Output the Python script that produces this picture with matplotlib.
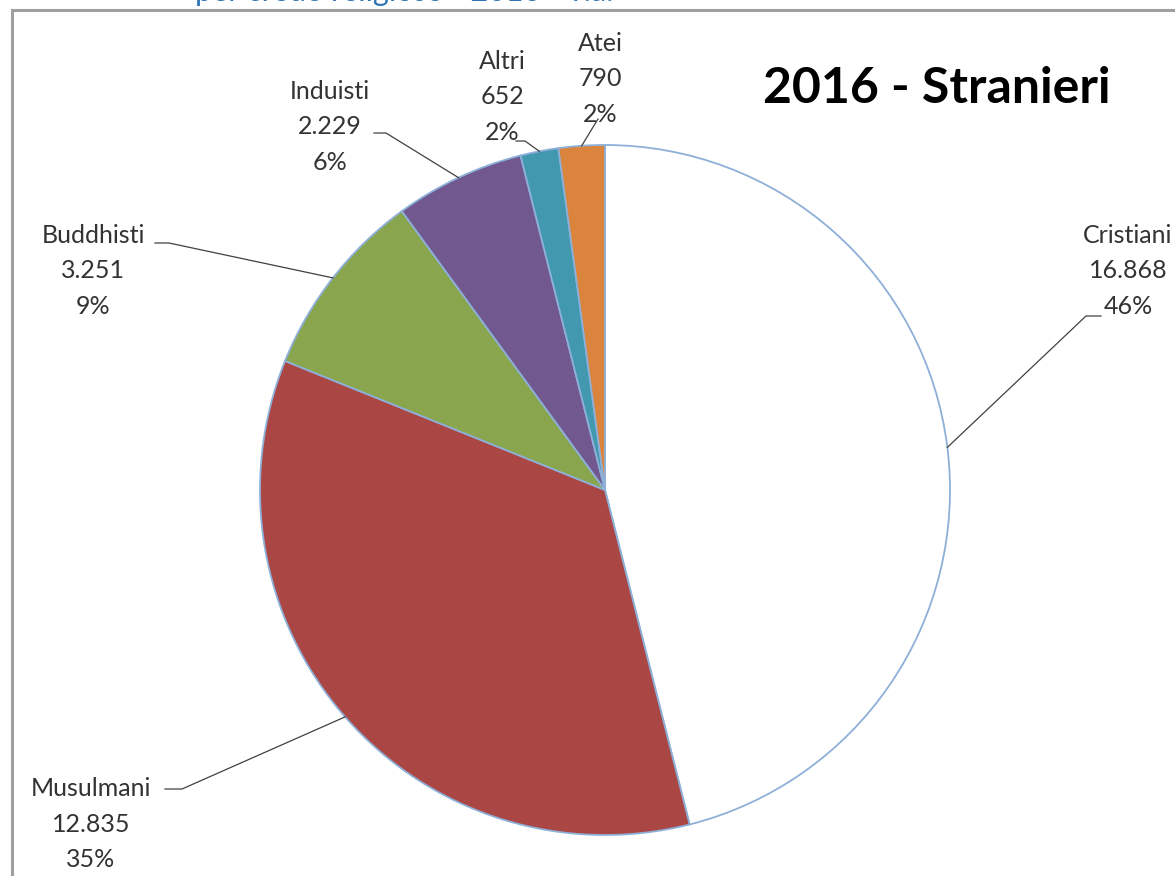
import numpy as np
import matplotlib
matplotlib.use("Agg")
import matplotlib.pyplot as plt
from matplotlib.lines import Line2D

# data
categories = ["Cristiani", "Musulmani", "Buddhisti", "Induisti", "Altri", "Atei"]
counts = [16868, 12835, 3251, 2229, 652, 790]
count_labels = ["16.868", "12.835", "3.251", "2.229", "652", "790"]
colors = ["#ffffff", "#aa4643", "#89a54e", "#71588f", "#4198af", "#db843d"]

W, H = 1175, 876
CX, CY, R = 605, 490, 345   # pie centre / radius in pixels

# label block centres and leader start/elbow points, in pixels (layout only)
label_pos = [(1128, 271), (91, 824), (93, 271), (330, 127), (502, 97), (600, 79)]
leader_start = [(1101, 316), (165, 789), (155, 243), (374, 133), (516, 141), (598, 119)]
leader_elbow = [(1086, 316), (182, 789), (169, 243), (386, 133), (525, 141), (598, 119)]


def to_data(p):
    return ((p[0] - CX) / R, (CY - p[1]) / R)


fig = plt.figure(figsize=(W / 100, H / 100), dpi=100)
fig.patch.set_facecolor("white")

ax = fig.add_axes([(CX - R) / W, (H - CY - R) / H, 2 * R / W, 2 * R / H])
wedges, _ = ax.pie(counts, colors=colors, startangle=90, counterclock=False,
                   radius=1, wedgeprops=dict(edgecolor="#8eb0d8", linewidth=1.3))
ax.set_xlim(-1, 1)
ax.set_ylim(-1, 1)

total = sum(counts)
for i, w in enumerate(wedges):
    ang = np.deg2rad((w.theta1 + w.theta2) / 2)
    end = (np.cos(ang), np.sin(ang))
    s = to_data(leader_start[i])
    e = to_data(leader_elbow[i])
    ax.plot([s[0], e[0], end[0]], [s[1], e[1], end[1]], color="#404040",
            lw=0.9, clip_on=False)
    pct = round(counts[i] / total * 100)
    tx, ty = to_data(label_pos[i])
    ax.text(tx, ty, f"{categories[i]}\n{count_labels[i]}\n{pct}%", ha="center",
            va="center", fontsize=18, family="Lato", color="#333333",
            linespacing=1.68, clip_on=False)

# chart title
fig.text(937 / W, 1 - 103 / H, "2016 - Stranieri", ha="center", va="baseline",
         fontsize=36, fontweight="bold", family="Lato", color="black")

# cut-off heading above the chart frame
fig.text(195 / W, 1 - 1 / H, "per credo religioso - 2016 - v.a.", ha="left",
         va="baseline", fontsize=22, family="Lato", color="#2e74b5")

# chart frame (only top and left edges are visible)
fig.add_artist(Line2D([12 / W, 1], [1 - 10 / H, 1 - 10 / H], color="#a0a0a0", lw=2.2))
fig.add_artist(Line2D([12 / W, 12 / W], [0, 1 - 10 / H], color="#a0a0a0", lw=2.2))

fig.savefig("out.png", dpi=100)
